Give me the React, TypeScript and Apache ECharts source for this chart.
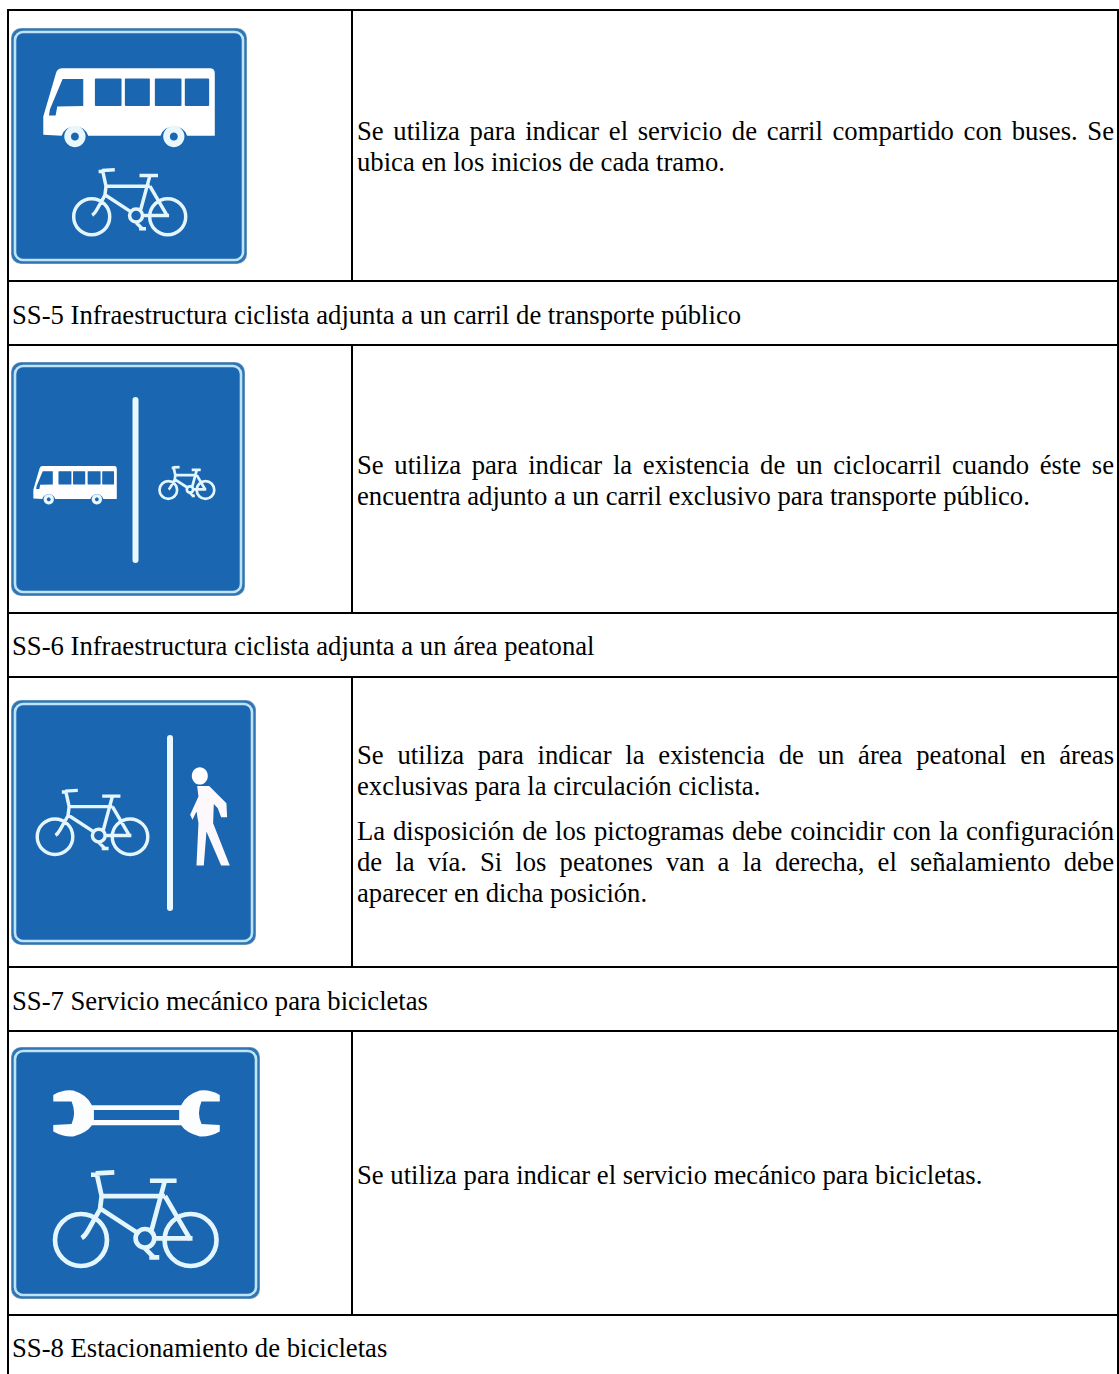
import React, { useEffect, useRef } from "react";
import * as echarts from "echarts";

const FONT = '"Liberation Serif", "Times New Roman", serif';
const FONT_SIZE = 26.67;
const BLUE = "#1a66b1";
const LIGHT = "#bfe4f8";

const headers = [
  { text: "SS-5 Infraestructura ciclista adjunta a un carril de transporte público", y: 315 },
  { text: "SS-6 Infraestructura ciclista adjunta a un área peatonal", y: 646 },
  { text: "SS-7 Servicio mecánico para bicicletas", y: 1001 },
  { text: "SS-8 Estacionamiento de bicicletas", y: 1348 },
];

const bodyLines = [
  { text: "Se utiliza para indicar el servicio de carril compartido con buses. Se", y: 131, justify: true },
  { text: "ubica en los inicios de cada tramo.", y: 162, justify: false },
  { text: "Se utiliza para indicar la existencia de un ciclocarril cuando éste se", y: 465, justify: true },
  { text: "encuentra adjunto a un carril exclusivo para transporte público.", y: 496, justify: false },
  { text: "Se utiliza para indicar la existencia de un área peatonal en áreas", y: 755, justify: true },
  { text: "exclusivas para la circulación ciclista.", y: 786, justify: false },
  { text: "La disposición de los pictogramas debe coincidir con la configuración", y: 831, justify: true },
  { text: "de la vía. Si los peatones van a la derecha, el señalamiento debe", y: 862, justify: true },
  { text: "aparecer en dicha posición.", y: 893, justify: false },
  { text: "Se utiliza para indicar el servicio mecánico para bicicletas.", y: 1175, justify: false },
];

const hLines = [10, 281, 345, 613, 677, 967, 1031, 1315];
const vSegments = [[10, 281], [345, 613], [677, 967], [1031, 1315]];
const signs = [
  { x: 11, y: 28, w: 236, h: 236 },
  { x: 11, y: 362, w: 234, h: 234 },
  { x: 11, y: 700, w: 245, h: 245 },
  { x: 11, y: 1047, w: 249, h: 252 },
];

const BIKE =
  "M44,-200 L100,-203 M30,-196 L48,-196 L62,-132 L57,-92 L22,-30 Q12,-12 2,-6 " +
  "M62,-132 L252,-132 M207,-178 L287,-178 M252,-178 L212,-30 " +
  "M57,-95 L172,-20 M252,-132 L329,0 M225,-5 L335,-5 M192,25 L222,55 M205,52 L235,52 " +
  "M78,0 A78,78 0 1 1 -78,0 A78,78 0 1 1 78,0 " +
  "M407,0 A78,78 0 1 1 251,0 A78,78 0 1 1 407,0 " +
  "M220,-5 A28,28 0 1 1 164,-5 A28,28 0 1 1 220,-5";
const BUS_BODY =
  "M130,405 L130,350 L168,220 Q172,205 188,205 L630,205 Q645,205 645,220 L645,408 L562,408 " +
  "A42,42 0 0 0 482,408 L265,408 A42,42 0 0 0 185,408 Z";
const WINDSHIELD = "M188,237 L250,237 L250,318 L172,320 L167,347 L147,347 L150,328 Z";
const WALKER =
  "M592,318 L628,318 L680,370 L682,412 L664,412 L654,385 L642,372 L640,430 L690,557 L664,557 " +
  "L620,455 L612,557 L590,557 L596,430 L590,395 L578,420 L571,405 L596,350 Z";
const WRENCH =
  "M160,225 Q190,208 220,212 Q262,225 276,256 L544,256 Q558,225 600,212 Q630,208 660,225 L660,245 " +
  "L605,245 Q590,280 605,312 L660,315 L660,335 Q630,352 600,350 Q558,338 544,316 L276,316 " +
  "Q262,338 220,350 Q190,352 160,335 L160,315 L215,312 Q230,280 215,245 L160,245 Z";

echarts.graphic.registerShape("sBike", echarts.graphic.extendPath(BIKE, {}));
echarts.graphic.registerShape("sBus", echarts.graphic.extendPath(BUS_BODY, {}));
echarts.graphic.registerShape("sShield", echarts.graphic.extendPath(WINDSHIELD, {}));
echarts.graphic.registerShape("sWalker", echarts.graphic.extendPath(WALKER, {}));
echarts.graphic.registerShape("sWrench", echarts.graphic.extendPath(WRENCH, {}));

function signBase(s: { x: number; y: number; w: number; h: number }) {
  return [
    { type: "rect", shape: { x: s.x, y: s.y, width: s.w, height: s.h, r: 10 }, style: { fill: "#6f9cbd" } },
    { type: "rect", shape: { x: s.x + 0.8, y: s.y + 0.8, width: s.w - 1.6, height: s.h - 1.6, r: 9 }, style: { fill: "#2f74b3" } },
    {
      type: "rect",
      shape: { x: s.x + 4, y: s.y + 4, width: s.w - 8, height: s.h - 8, r: 8 },
      style: { fill: BLUE, stroke: LIGHT, lineWidth: 2.6 },
    },
  ];
}

function bike(x: number, y: number, scale: number, lineWidth: number) {
  return {
    type: "sBike",
    x,
    y,
    scaleX: scale,
    scaleY: scale,
    style: { fill: "none", stroke: "#e4f6fd", lineWidth },
  };
}

function bus(x: number, y: number, scale: number) {
  const winX = [[285, 80], [375, 75], [465, 80], [555, 73]];
  const wheels = [225, 522];
  return {
    type: "group",
    x,
    y,
    scaleX: scale,
    scaleY: scale,
    children: [
      { type: "sBus", style: { fill: "#fff" } },
      { type: "sShield", style: { fill: BLUE } },
      ...winX.map(([wx, ww]) => ({
        type: "rect",
        shape: { x: wx, y: 236, width: ww, height: 82, r: 3 },
        style: { fill: BLUE },
      })),
      ...wheels.map((cx) => ({ type: "circle", shape: { cx, cy: 410, r: 32 }, style: { fill: "#e9f7fd" } })),
      ...wheels.map((cx) => ({ type: "circle", shape: { cx, cy: 410, r: 12 }, style: { fill: BLUE } })),
    ],
  };
}

function measure(text: string) {
  const ctx = document.createElement("canvas").getContext("2d")!;
  ctx.font = `${FONT_SIZE}px ${FONT}`;
  return ctx.measureText(text).width;
}

function textEl(text: string, x: number, y: number) {
  return {
    type: "text",
    x,
    y,
    style: { text, fill: "#000", font: `${FONT_SIZE}px ${FONT}`, verticalAlign: "middle", align: "left" },
  };
}

const TEXT_LEFT = 357;
const TEXT_RIGHT = 1114;

export default function App() {
  const ref = useRef<HTMLDivElement>(null);
  useEffect(() => {
    const chart = echarts.init(ref.current!, null, { renderer: "svg" });
    const elements: any[] = [];
    hLines.forEach((y) =>
      elements.push({ type: "line", shape: { x1: 7, y1: y, x2: 1119, y2: y }, style: { stroke: "#000", lineWidth: 2 } })
    );
    elements.push({ type: "line", shape: { x1: 8, y1: 9, x2: 8, y2: 1374 }, style: { stroke: "#000", lineWidth: 2 } });
    elements.push({ type: "line", shape: { x1: 1118, y1: 9, x2: 1118, y2: 1374 }, style: { stroke: "#000", lineWidth: 2 } });
    vSegments.forEach(([a, b]) =>
      elements.push({ type: "line", shape: { x1: 352, y1: a, x2: 352, y2: b }, style: { stroke: "#000", lineWidth: 2 } })
    );
    signs.forEach((s) => elements.push(...signBase(s)));

    // Sign 1
    elements.push(bus(0, 0, 1 / 3));
    elements.push(bike(91.7, 216.7, 0.231, 15));
    // Sign 2
    elements.push({ type: "rect", shape: { x: 132.5, y: 397, width: 6, height: 166, r: 3 }, style: { fill: "#e9f8fe" } });
    elements.push(bus(12.3, 432.9, 0.485 / 3));
    elements.push(bike(168.3, 490, 0.113, 24));
    // Sign 3
    elements.push({ type: "rect", shape: { x: 167, y: 735, width: 6, height: 176, r: 3 }, style: { fill: "#e9f8fe" } });
    elements.push(bike(55, 836.7, 0.228, 15));
    elements.push({
      type: "group",
      x: 0,
      y: 680,
      scaleX: 1 / 3,
      scaleY: 1 / 3,
      children: [
        { type: "ellipse", shape: { cx: 600, cy: 288, rx: 24, ry: 26 }, style: { fill: "#fff" } },
        { type: "sWalker", style: { fill: "#fdf8fb" } },
      ],
    });
    // Sign 4
    elements.push({
      type: "group",
      x: 0,
      y: 1020,
      scaleX: 1 / 3,
      scaleY: 1 / 3,
      children: [
        { type: "sWrench", style: { fill: "#fbfdfe" } },
        { type: "rect", shape: { x: 282, y: 270, width: 256, height: 30 }, style: { fill: BLUE } },
      ],
    });
    elements.push(bike(81, 1240, 1 / 3, 14));

    headers.forEach((h) => elements.push(textEl(h.text, 12, h.y)));
    bodyLines.forEach((l) => elements.push(textEl(l.text, TEXT_LEFT, l.y)));

    chart.setOption({ animation: false, graphic: { elements: elements.map((e) => ({ silent: true, ...e })) } });

    const nodes = ref.current!.querySelectorAll("text");
    nodes.forEach((n) => {
      const line = bodyLines.find((l) => l.justify && l.text === n.textContent);
      if (!line) return;
      const gaps = line.text.split(" ").length - 1;
      const extra = (TEXT_RIGHT - TEXT_LEFT - measure(line.text)) / gaps;
      n.setAttribute("word-spacing", extra.toFixed(3));
    });
    return () => chart.dispose();
  }, []);
  return (
    <div
      ref={ref}
      style={{ position: "absolute", left: 0, top: 0, width: 1119, height: 1374, background: "#fff" }}
    />
  );
}
